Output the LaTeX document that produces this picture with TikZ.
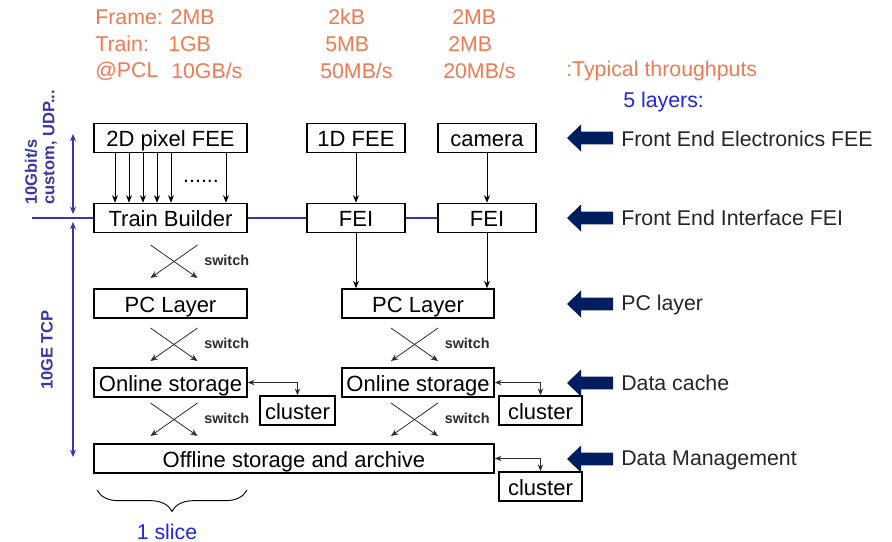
\documentclass[tikz,border=0pt]{standalone}
\usepackage{fontspec}
\setmainfont{Liberation Sans}
\usetikzlibrary{arrows.meta,decorations.pathreplacing,calc}
\definecolor{orng}{RGB}{240,122,82}
\definecolor{lblue}{RGB}{30,40,225}
\definecolor{lineblue}{RGB}{55,55,170}
\definecolor{navy}{RGB}{0,30,95}
\definecolor{dgray}{RGB}{45,45,45}
\begin{document}
\begin{tikzpicture}[x=0.75pt,y=-0.75pt,
  box/.style={draw=black, line width=1.3pt, minimum height=21.75pt, inner sep=0pt,
    text height=13pt, text depth=0.2pt, font=\fontsize{16.5}{19}\selectfont},
  arr/.style={draw=black, line width=0.6pt, -{Stealth[length=5.5pt,width=4.5pt]}},
  xarr/.style={draw=dgray, line width=0.6pt, -{Stealth[length=5.5pt,width=4.5pt]}},
  clarr/.style={draw=dgray, line width=0.6pt, {Stealth[length=5pt,width=4pt]}-{Stealth[length=5pt,width=4pt]}},
  otxt/.style={text=orng, inner sep=0pt, anchor=west, font=\fontsize{16}{19}\selectfont},
  lbl/.style={text=black!85, inner sep=0pt, anchor=west, font=\fontsize{16}{19}\selectfont},
  swlbl/.style={text=dgray, inner sep=0pt, anchor=west, font=\fontsize{10.8}{13}\selectfont\bfseries},
  vlbl/.style={text=lineblue, inner sep=0pt, rotate=90, font=\fontsize{12.4}{15}\selectfont\bfseries},
  bus/.style={draw=lineblue, line width=2pt},
  vbus/.style={draw=lineblue, line width=1.4pt, {Stealth[length=5.5pt,width=4.5pt]}-{Stealth[length=5.5pt,width=4.5pt]}},
  switchx/.pic={
    \draw[xarr] (-23.5,-16.5) -- (23.5,16.5);
    \draw[xarr] (23.5,-16.5) -- (-23.5,16.5);
    \node[swlbl] at (30,-1.5) {switch};
  },
  layerarrow/.pic={
    \fill[navy] (0,0) -- (14,-13.5) -- (14,-6.3) -- (46,-6.3) -- (46,6.3) -- (14,6.3) -- (14,13.5) -- cycle;
  }]
\fill[white] (0,0) rectangle (892,542);
\useasboundingbox (0,0) rectangle (892,542);

% throughput figures
\node[otxt] (frame) at (95,17) {Frame: 2MB};
\node[otxt] (train) at (95,44) {Train:};
\node[otxt] (trainv) at (168,44) {1GB};
\node[otxt] (pcl) at (95,71) {@PCL};
\node[otxt] (pclv) at (171,71) {10GB/s};
\node[otxt] (m1) at (328,17) {2kB};
\node[otxt] (m2) at (325,44) {5MB};
\node[otxt] (m3) at (320,71) {50MB/s};
\node[otxt] (r1) at (452,17) {2MB};
\node[otxt] (r2) at (448,44) {2MB};
\node[otxt] (r3) at (443,71) {20MB/s};
\node[otxt] (typ) at (566,71) {:Typical throughputs};
\node[otxt, text=lblue] (layers) at (623,102) {5 layers:};

% boxes
\node[box, minimum width=114.75pt] (fee2d) at (170.5,138) {2D pixel FEE};
\node[box, minimum width=73.5pt] (fee1d) at (356,138) {1D FEE};
\node[box, minimum width=73.5pt] (cam) at (487,138) {camera};
\node[box, minimum width=114.75pt] (tb) at (170.5,218) {Train Builder};
\node[box, minimum width=73.5pt] (fei1) at (356,218) {FEI};
\node[box, minimum width=73.5pt] (fei2) at (487,218) {FEI};
\node[box, minimum width=114.75pt] (pcleft) at (170.5,303.5) {PC Layer};
\node[box, minimum width=114pt] (pcright) at (418,303.5) {PC Layer};
\node[box, minimum width=114.75pt] (onl) at (170.5,382.5) {Online storage};
\node[box, minimum width=114pt] (onr) at (418,382.5) {Online storage};
\node[box, minimum width=56.25pt] (cl1) at (297.5,410.5) {cluster};
\node[box, minimum width=62.25pt] (cl2) at (540.5,410.5) {cluster};
\node[box, minimum width=300pt] (off) at (294,458.5) {Offline storage and archive};
\node[box, minimum width=62.25pt] (cl3) at (540.5,486.5) {cluster};

% front end links
\foreach \xx in {115,129,143,157,171,226}
  \draw[arr] (\xx,0 |- fee2d.south) -- (\xx,0 |- tb.north);
\node[otxt, text=black, anchor=base] (dots) at (201,182) {......};
\draw[arr] (fee1d.south) -- (fei1.north);
\draw[arr] (cam.south) -- (fei2.north);
\draw[arr] (fei1.south) -- (fei1.south |- pcright.north);
\draw[arr] (fei2.south) -- (fei2.south |- pcright.north);

% switches
\pic at (174,261.5) {switchx};
\pic at (174,344.5) {switchx};
\pic at (174,419.5) {switchx};
\pic at (414.5,344.5) {switchx};
\pic at (414.5,419.5) {switchx};

% clusters
\draw[clarr] (onl.east) -| (cl1.north);
\draw[clarr] (onr.east) -| (cl2.north);
\draw[clarr] (off.east) -| (cl3.north);

% network bus
\coordinate (busw) at (32,218);
\draw[bus] (busw) -- (tb.west);
\draw[bus] (tb.east) -- (fei1.west);
\draw[bus] (fei1.east) -- (fei2.west);
\coordinate (vtop) at (73,134);
\coordinate (vup) at (73,214);
\coordinate (vdn) at (73,222);
\coordinate (vbot) at (73,457);
\draw[vbus] (vtop) -- (vup);
\draw[vbus] (vdn) -- (vbot);
\node[vlbl, anchor=west] (gbit) at (31,205) {10Gbit/s};
\node[vlbl, anchor=west] (udp) at (50,205) {custom, UDP...};
\node[vlbl] (tcp) at (47,350) {10GE TCP};

% slice brace
\coordinate (br1) at (97,490);
\coordinate (br2) at (247,490);
\draw[decorate, decoration={brace, mirror, amplitude=16pt}, line width=0.7pt] (br1) -- (br2);
\node[otxt, text=lblue, anchor=base] (slice) at (167,539) {1 slice};

% layer legend
\foreach \yy in {138,218,304,383,459}
  \pic at (567,\yy) {layerarrow};
\node[lbl] (lfee) at (621,139) {Front End Electronics FEE};
\node[lbl] (lfei) at (621,218) {Front End Interface FEI};
\node[lbl] (lpc) at (621,305) {PC layer};
\node[lbl] (lcache) at (621,383) {Data cache};
\node[lbl] (lmgmt) at (621,460) {Data Management};
\end{tikzpicture}
\end{document}
